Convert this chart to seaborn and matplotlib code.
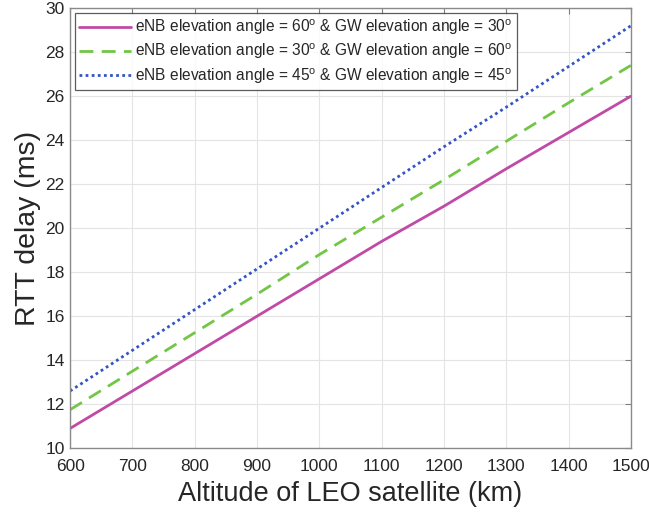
import matplotlib
matplotlib.use("Agg")
import matplotlib.pyplot as plt
import seaborn as sns
import pandas as pd

altitude = [600, 700, 800, 900, 1000, 1100, 1200, 1300, 1400, 1500]
rtt_60_30 = [10.9, 12.6, 14.3, 16.0, 17.7, 19.4, 21.0, 22.7, 24.35, 26.0]
rtt_30_60 = [11.75, 13.5, 15.25, 17.0, 18.8, 20.5, 22.2, 23.95, 25.7, 27.4]
rtt_45_45 = [12.6, 14.45, 16.3, 18.15, 20.0, 21.85, 23.7, 25.5, 27.35, 29.2]

labels = [
    r"eNB elevation angle = 60$^\mathrm{o}$ & GW elevation angle = 30$^\mathrm{o}$",
    r"eNB elevation angle = 30$^\mathrm{o}$ & GW elevation angle = 60$^\mathrm{o}$",
    r"eNB elevation angle = 45$^\mathrm{o}$ & GW elevation angle = 45$^\mathrm{o}$",
]
colors = ["#C04AA6", "#72C645", "#3554C4"]
styles = ["-", (0, (5, 3)), (0, (1, 1.2))]
xticks = [600, 700, 800, 900, 1000, 1100, 1200, 1300, 1400, 1500]
yticks = [10, 12, 14, 16, 18, 20, 22, 24, 26, 28, 30]

sns.set_theme(style="white")
plt.rcParams["font.family"] = ["Liberation Sans", "DejaVu Sans"]
plt.rcParams["mathtext.fontset"] = "custom"
plt.rcParams["mathtext.rm"] = "Liberation Sans"
plt.rcParams["mathtext.it"] = "Liberation Sans:italic"

fig = plt.figure(figsize=(6.49, 5.14), dpi=100)
ax = fig.add_axes([0.108, 0.128, 0.864, 0.856])

for vals, lab, c, ls in zip([rtt_60_30, rtt_30_60, rtt_45_45], labels, colors, styles):
    df = pd.DataFrame({"x": altitude, "y": vals})
    sns.lineplot(data=df, x="x", y="y", ax=ax, color=c, linestyle=ls, linewidth=2.0, label=lab)

ax.set_xlim(600, 1500)
ax.set_ylim(10, 30)
ax.set_xticks(xticks)
ax.set_yticks(yticks)
ax.grid(True, color="#e4e4e4", linewidth=0.8)
ax.tick_params(direction="in", top=True, right=True, length=4, width=0.8,
               colors="#7f7f7f", labelcolor="#262626", labelsize=12.5)
ax.tick_params(axis="x", pad=8)
ax.tick_params(axis="y", pad=4)
for s in ax.spines.values():
    s.set_color("#8a8a8a")
    s.set_linewidth(1.0)
ax.set_xlabel("Altitude of LEO satellite (km)", fontsize=19.5, color="#262626", labelpad=5)
ax.set_ylabel("RTT delay (ms)", fontsize=20.5, color="#262626", labelpad=3)

leg = ax.legend(loc="upper left", fontsize=11.2, frameon=True, fancybox=False,
                borderaxespad=0.3, handlelength=3.3, handletextpad=0.3,
                labelspacing=0.3, borderpad=0.3, bbox_to_anchor=(0.0, 1.0))
leg.get_frame().set_edgecolor("#333333")
leg.get_frame().set_linewidth(0.9)
for t in leg.get_texts():
    t.set_color("#262626")

fig.savefig("out.png", dpi=100)
